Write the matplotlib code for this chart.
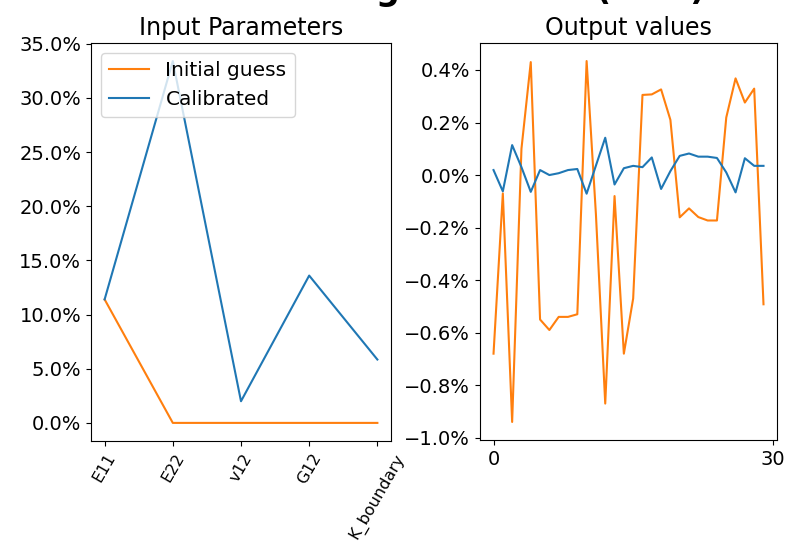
import matplotlib
matplotlib.use("Agg")
import matplotlib.pyplot as plt
from matplotlib.ticker import PercentFormatter

# Relative change of each input parameter (%)
param_names = ["E11", "E22", "v12", "G12", "K_boundary"]
param_initial = [11.4, 0.0, 0.0, 0.0, 0.0]
param_calibrated = [11.4, 33.4, 2.0, 13.6, 5.85]

# Relative error of each output value (%)
out_initial = [-0.68, -0.07, -0.94, 0.10, 0.43, -0.55, -0.59, -0.54, -0.54, -0.53,
               0.434, -0.15, -0.87, -0.08, -0.68, -0.47, 0.305, 0.307, 0.326, 0.21,
               -0.161, -0.127, -0.16, -0.173, -0.173, 0.219, 0.368, 0.276, 0.329, -0.492]
out_calibrated = [0.019, -0.062, 0.114, 0.03, -0.064, 0.019, 0.0, 0.007, 0.019, 0.023,
                  -0.071, 0.036, 0.142, -0.036, 0.026, 0.035, 0.03, 0.067, -0.053, 0.015,
                  0.073, 0.082, 0.07, 0.07, 0.065, 0.01, -0.066, 0.064, 0.035, 0.035]
out_xticks = [0, 30]

plt.rcParams["font.size"] = 14

fig = plt.figure(figsize=(7.85, 5.47), dpi=100)
ax1 = fig.add_axes([0.1159, 0.1938, 0.3822, 0.7276])
ax2 = fig.add_axes([0.6115, 0.1956, 0.3783, 0.7258])

fig.text(0.5, 1.0, "Calibration using FE model (FEM)", ha="center",
         va="baseline", fontsize=24, fontweight="bold")

ax1.plot(param_names, param_initial, color="C1", label="Initial guess")
ax1.plot(param_names, param_calibrated, color="C0", label="Calibrated")
ax1.set_title("Input Parameters", fontsize=17)
ax1.yaxis.set_major_formatter(PercentFormatter(100, decimals=1))
ax1.tick_params(axis="x", labelrotation=60, labelsize=11.5)
ax1.legend(loc="upper left", fontsize=14.5)

idx = list(range(len(out_initial)))
ax2.plot(idx, out_initial, color="C1")
ax2.plot(idx, out_calibrated, color="C0")
ax2.set_title("Output values", fontsize=17)
ax2.set_xticks(out_xticks)
ax2.yaxis.set_major_formatter(PercentFormatter(100, decimals=1))

fig.savefig("out.png", dpi=100)
